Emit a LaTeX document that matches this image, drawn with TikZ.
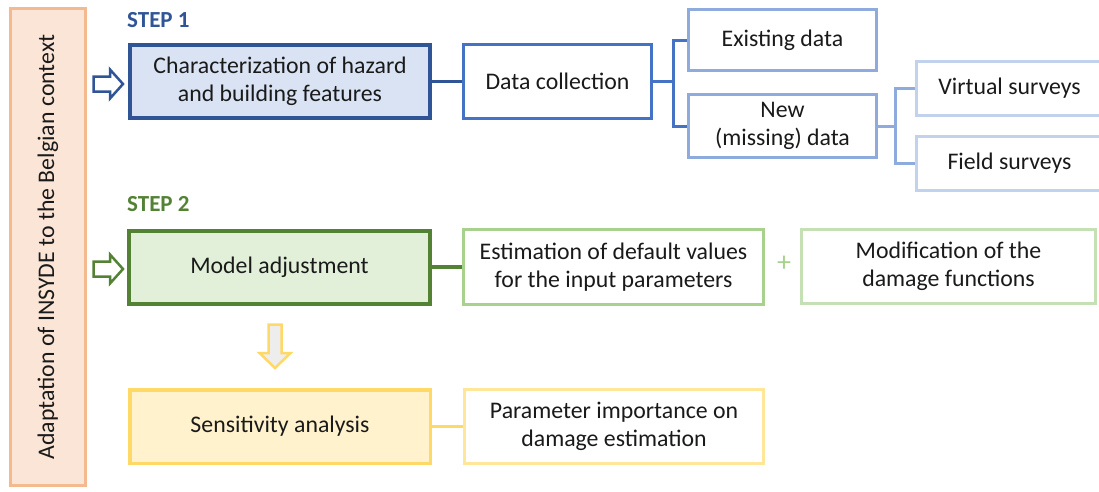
\documentclass[tikz,border=0pt]{standalone}
\usepackage{fontspec}
\setmainfont{Carlito}
\definecolor{peach}{HTML}{F4B98F}
\definecolor{peachfill}{HTML}{FBE5D6}
\definecolor{blueA}{HTML}{2F5597}
\definecolor{blueAfill}{HTML}{DAE3F3}
\definecolor{blueB}{HTML}{4472C4}
\definecolor{blueC}{HTML}{8FAADC}
\definecolor{blueD}{HTML}{C3D2EC}
\definecolor{greenA}{HTML}{548235}
\definecolor{greenAfill}{HTML}{E2F0D9}
\definecolor{greenB}{HTML}{A9D18E}
\definecolor{greenC}{HTML}{C5E0B4}
\definecolor{yelA}{HTML}{FFD966}
\definecolor{yelAfill}{HTML}{FFF2CC}
\definecolor{yelB}{HTML}{FFE699}
\definecolor{txt}{HTML}{1A1A1A}
\begin{document}
\begin{tikzpicture}[x=1pt,y=-1pt,
  font=\fontsize{23.8}{27.5}\selectfont,
  box/.style={draw, rectangle, align=center, inner sep=0pt, text=txt, fill=white},
  steplabel/.style={anchor=west, inner sep=0pt, font=\fontsize{23}{27}\selectfont\bfseries},
  conn/.style={line width=3.5pt},
  hollow/.style={line width=2.5pt, line join=miter}]
\useasboundingbox (0,0) rectangle (1099,491);
\clip (0,0) rectangle (1099,491);

% left bar
\node[box, draw=peach, fill=peachfill, line width=3pt, minimum width=75pt, minimum height=477pt] (bar) at (48,247) {};
\node[rotate=90, text=txt, inner sep=0pt] (bartext) at (bar.center) {Adaptation of INSYDE to the Belgian context};

% step 1
\node[steplabel, text=blueA] (s1) at (127,20) {STEP 1};
\node[box, draw=blueA, fill=blueAfill, line width=4pt, minimum width=300pt, minimum height=73pt] (char) at (280,81.5) {Characterization of hazard\\and building features};
\node[box, draw=blueB, line width=3pt, minimum width=188pt, minimum height=74pt] (data) at (557.5,81.5) {Data collection};
\node[box, draw=blueC, line width=3pt, minimum width=188pt, minimum height=61pt] (exist) at (782.5,40) {Existing data};
\node[box, draw=blueC, line width=3pt, minimum width=188pt, minimum height=63pt] (new) at (782.5,126) {New\\(missing) data};
\node[box, draw=blueD, line width=3pt, minimum width=192pt, minimum height=54pt] (virt) at (1012.5,88.5) {\hspace*{-6pt}Virtual surveys};
\node[box, draw=blueD, line width=3pt, minimum width=192pt, minimum height=54pt] (field) at (1012.5,163.5) {\hspace*{-6pt}Field surveys};

\coordinate (b1) at (673,81.5);
\coordinate (b2) at (895,126);
\draw[conn, blueA] (char.east) -- (data.west);
\draw[conn, blueB] (data.east) -- (b1);
\draw[conn, blueB, line width=3pt] (exist.west) -| (b1) |- (new.west);
\draw[conn, blueC, line width=3pt] (new.east) -- (b2);
\draw[conn, blueC, line width=3pt] (virt.west) -| (b2) |- (field.west);

% blue hollow arrow
\draw[hollow, draw=blueA, fill=white] (93.5,76.5) -- (110,76.5) -- (110,69.5) -- (123,84) -- (110,98.5) -- (110,91.5) -- (93.5,91.5) -- cycle;

% step 2
\node[steplabel, text=greenA] (s2) at (127,204) {STEP 2};
\node[box, draw=greenA, fill=greenAfill, line width=4pt, minimum width=301pt, minimum height=73pt] (model) at (279.5,267) {Model adjustment};
\node[box, draw=greenB, line width=3pt, minimum width=300pt, minimum height=75pt] (estim) at (613.5,267) {Estimation of default values\\for the input parameters};
\node[box, draw=greenC, line width=3pt, minimum width=294pt, minimum height=74pt] (modif) at (948.5,266.5) {Modification of the\\damage functions};
\node[text=greenB, inner sep=0pt, font=\fontsize{28}{30}\selectfont] (plus) at (784,264) {+};
\draw[conn, greenA] (model.east) -- (estim.west);

\draw[hollow, draw=greenA, fill=white] (93.5,261.5) -- (110,261.5) -- (110,254.5) -- (123,269) -- (110,283.5) -- (110,276.5) -- (93.5,276.5) -- cycle;

% yellow arrow
\draw[hollow, draw=yelA, fill=black!7] (268.5,324.5) -- (281.5,324.5) -- (281.5,353) -- (290.5,353) -- (275,368) -- (259.5,353) -- (268.5,353) -- cycle;

% sensitivity
\node[box, draw=yelA, fill=yelAfill, line width=3.5pt, minimum width=300.5pt, minimum height=73.5pt] (sens) at (280,426.5) {Sensitivity analysis};
\node[box, draw=yelB, line width=3pt, minimum width=299pt, minimum height=74pt] (param) at (614,426.5) {Parameter importance on\\damage estimation};
\draw[conn, yelA] (sens.east) -- (param.west);
\end{tikzpicture}
\end{document}
